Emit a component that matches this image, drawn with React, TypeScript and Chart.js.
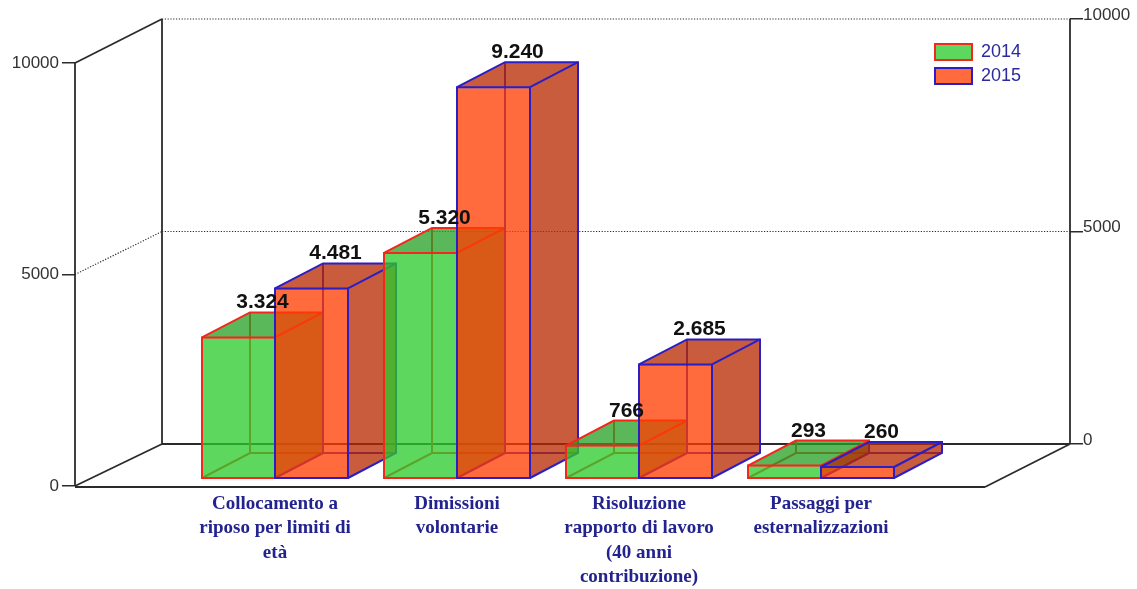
import React, { useEffect, useRef } from "react";
import { Chart, registerables } from "chart.js";

Chart.register(...registerables);

const categories = [
  ["Collocamento a", "riposo per limiti di", "età"],
  ["Dimissioni", "volontarie"],
  ["Risoluzione", "rapporto di lavoro", "(40 anni", "contribuzione)"],
  ["Passaggi per", "esternalizzazioni"],
];
const categoryIndex = [0, 1, 2, 3];
const values2014 = [3324, 5320, 766, 293];
const values2015 = [4481, 9240, 2685, 260];
const axisTicks = [0, 5000, 10000];

const DEPTH_X = 48;
const DEPTH_Y = 25;
const WALL_X = 87;
const FLOOR_RIGHT_INSET = 85;
const INK = "#2b2b2b";

const faces: any = {
  0: { top: "rgba(38,161,38,0.76)", side: "rgba(38,161,38,0.76)" },
  1: { top: "rgba(184,41,0,0.76)", side: "rgba(184,41,0,0.76)" },
};

function poly(ctx: CanvasRenderingContext2D, pts: number[][]) {
  ctx.beginPath();
  pts.forEach((p, i) => (i ? ctx.lineTo(p[0], p[1]) : ctx.moveTo(p[0], p[1])));
}

function segment(ctx: CanvasRenderingContext2D, x0: number, y0: number, x1: number, y1: number, dotted: boolean) {
  ctx.save();
  ctx.strokeStyle = INK;
  ctx.lineWidth = dotted ? 1.2 : 1.8;
  ctx.setLineDash(dotted ? [1.2, 1.6] : []);
  ctx.beginPath();
  ctx.moveTo(x0, y0);
  ctx.lineTo(x1, y1);
  ctx.stroke();
  ctx.restore();
}

function drawWalls(chart: any) {
  const ctx = chart.ctx;
  const { left, right } = chart.chartArea;
  const front = chart.scales.y;
  const back = chart.scales.y1;
  const backX = left + WALL_X;
  axisTicks.forEach((t) => {
    const fy = front.getPixelForValue(t);
    const by = back.getPixelForValue(t);
    segment(ctx, left, fy, backX, by, t === 5000);
    segment(ctx, backX, by, right, by, t !== 0);
  });
  const y0 = front.getPixelForValue(0);
  const yTop = front.getPixelForValue(10000);
  const by0 = back.getPixelForValue(0);
  const byTop = back.getPixelForValue(10000);
  segment(ctx, left, yTop, left, y0, false);
  segment(ctx, backX, byTop, backX, by0, false);
  segment(ctx, right, byTop, right, by0, false);
  const floorEnd = right - FLOOR_RIGHT_INSET;
  segment(ctx, left, y0 + 1, floorEnd, y0 + 1, false);
  segment(ctx, floorEnd, y0 + 1, right, by0, false);
}

function drawBar(chart: any, series: number, index: number) {
  const ctx = chart.ctx;
  const meta = chart.getDatasetMeta(series);
  const bar = meta.data[index];
  const { x, y, base, width } = bar.getProps(["x", "y", "base", "width"], true);
  const x0 = x - width / 2;
  const x1 = x + width / 2;
  const dx = DEPTH_X;
  const dy = DEPTH_Y;
  const stroke = chart.data.datasets[series].borderColor;
  ctx.save();
  ctx.strokeStyle = stroke;
  ctx.lineWidth = 2;
  ctx.lineJoin = "miter";
  // hidden edges
  poly(ctx, [[x0, base], [x0 + dx, base - dy], [x1 + dx, base - dy]]);
  ctx.stroke();
  poly(ctx, [[x0 + dx, base - dy], [x0 + dx, y - dy]]);
  ctx.stroke();
  // top face
  poly(ctx, [[x0, y], [x0 + dx, y - dy], [x1 + dx, y - dy], [x1, y]]);
  ctx.closePath();
  ctx.fillStyle = faces[series].top;
  ctx.fill();
  // side face
  poly(ctx, [[x1, y], [x1 + dx, y - dy], [x1 + dx, base - dy], [x1, base]]);
  ctx.closePath();
  ctx.fillStyle = faces[series].side;
  ctx.fill();
  // visible edges
  poly(ctx, [[x0, y], [x0 + dx, y - dy], [x1 + dx, y - dy], [x1 + dx, base - dy], [x1, base]]);
  ctx.stroke();
  poly(ctx, [[x1, y], [x1 + dx, y - dy]]);
  ctx.stroke();
  bar.draw(ctx);
  // front outline, centred on the bar's edges
  ctx.strokeStyle = stroke;
  ctx.lineWidth = 2;
  poly(ctx, [[x0, y], [x1, y], [x1, base], [x0, base]]);
  ctx.closePath();
  ctx.stroke();
  ctx.restore();
}

function formatValue(v: number) {
  return String(v).replace(/\B(?=(\d{3})+$)/g, ".");
}

function drawValueLabels(chart: any) {
  const ctx = chart.ctx;
  ctx.save();
  ctx.font = "bold 21px 'Liberation Sans'";
  ctx.fillStyle = "#111";
  ctx.textAlign = "center";
  ctx.textBaseline = "alphabetic";
  chart.data.datasets.forEach((ds: any, s: number) => {
    chart.getDatasetMeta(s).data.forEach((bar: any, i: number) => {
      const { x, y } = bar.getProps(["x", "y"], true);
      ctx.fillText(formatValue(ds.data[i].y), x + DEPTH_X / 2, y - DEPTH_Y - 4);
    });
  });
  ctx.restore();
}

const boxes3d = {
  id: "boxes3d",
  afterLayout(chart: any) {
    const lg = chart.legend;
    if (!lg) return;
    const w = lg.width;
    const h = lg.height;
    lg.left = 929;
    lg.right = 929 + w;
    lg.top = 37;
    lg.bottom = 37 + h;
  },
  beforeDatasetsDraw(chart: any) {
    drawWalls(chart);
    categoryIndex.forEach((i) => {
      drawBar(chart, 0, i);
      drawBar(chart, 1, i);
    });
    drawValueLabels(chart);
    return false;
  },
};

function setTicks(scale: any) {
  scale.ticks = axisTicks.map((value) => ({ value }));
}
function fitY(width: number) {
  return (scale: any) => {
    scale.width = width;
    scale.paddingTop = scale.paddingBottom = scale.paddingLeft = scale.paddingRight = 0;
  };
}

export default function App() {
  const ref = useRef<HTMLCanvasElement>(null);
  useEffect(() => {
    const chart = new Chart(ref.current as any, {
      type: "bar",
      data: {
        datasets: [
          {
            label: "2014",
            data: categoryIndex.map((i) => ({ x: i, y: values2014[i] })),
            backgroundColor: "rgba(44,203,44,0.76)",
            borderColor: "#f5261c",
            borderWidth: 1,
            borderSkipped: false,
            inflateAmount: 0,
            barThickness: 73,
            xAxisID: "x",
            yAxisID: "yBar",
          },
          {
            label: "2015",
            data: categoryIndex.map((i) => ({ x: i, y: values2015[i] })),
            backgroundColor: "rgba(255,60,0,0.76)",
            borderColor: "#2a1fc4",
            borderWidth: 1,
            borderSkipped: false,
            inflateAmount: 0,
            barThickness: 73,
            xAxisID: "x",
            yAxisID: "yBar",
          },
        ],
      } as any,
      plugins: [boxes3d],
      options: {
        responsive: false,
        animation: false,
        events: [],
        layout: { padding: { top: 19, left: 0, right: 0, bottom: 0 } },
        plugins: {
          tooltip: { enabled: false },
          title: { display: false },
          legend: {
            display: true,
            position: "chartArea",
            align: "start",
            labels: {
              boxWidth: 37,
              boxHeight: 16,
              padding: 6,
              color: "#2a2a9e",
              font: { family: "'Liberation Sans'", size: 18 },
              generateLabels(chart: any) {
                return Chart.defaults.plugins.legend.labels
                  .generateLabels(chart)
                  .map((item: any) => ({ ...item, lineWidth: 2 }));
              },
            },
          },
        },
        scales: {
          x: {
            type: "linear",
            position: "bottom",
            offset: false,
            min: -1.0989,
            max: 4.3681,
            grid: { display: false, drawTicks: false },
            border: { display: false },
            afterBuildTicks(scale: any) {
              scale.ticks = categoryIndex.map((value) => ({ value }));
            },
            afterFit(scale: any) {
              scale.height = 103;
              scale.paddingTop = scale.paddingBottom = scale.paddingLeft = scale.paddingRight = 0;
            },
            ticks: {
              autoSkip: false,
              maxRotation: 0,
              minRotation: 0,
              padding: 6,
              color: "#23238f",
              font: { family: "'Liberation Serif'", size: 19, weight: "bold", lineHeight: 1.28 },
              callback: (v: any) => categories[v],
            },
          },
          y: {
            type: "linear",
            position: "left",
            min: 0,
            max: 11040,
            grid: { drawOnChartArea: false, drawTicks: true, tickLength: 13, color: INK, lineWidth: 1.5 },
            border: { display: false },
            afterBuildTicks: setTicks,
            afterFit: fitY(75),
            ticks: {
              padding: 3,
              color: "#333",
              font: { family: "'Liberation Sans'", size: 17 },
              callback: (v: any) => String(v),
            },
          },
          y1: {
            type: "linear",
            position: "right",
            min: -988,
            max: 10000,
            grid: { drawOnChartArea: false, drawTicks: true, tickLength: 13, color: INK, lineWidth: 1.5 },
            border: { display: false },
            afterBuildTicks: setTicks,
            afterFit: fitY(67),
            ticks: {
              padding: 0,
              labelOffset: -4,
              color: "#333",
              font: { family: "'Liberation Sans'", size: 17 },
              callback: (v: any) => String(v),
            },
          },
          yBar: {
            type: "linear",
            axis: "y",
            display: false,
            min: -189,
            max: 10851,
          },
        },
      } as any,
    });
    return () => chart.destroy();
  }, []);
  return (
    <div style={{ position: "absolute", left: 0, top: 0, width: 1137, height: 589, background: "#fff" }}>
      <canvas ref={ref} width={1137} height={589} style={{ display: "block" }} />
    </div>
  );
}
